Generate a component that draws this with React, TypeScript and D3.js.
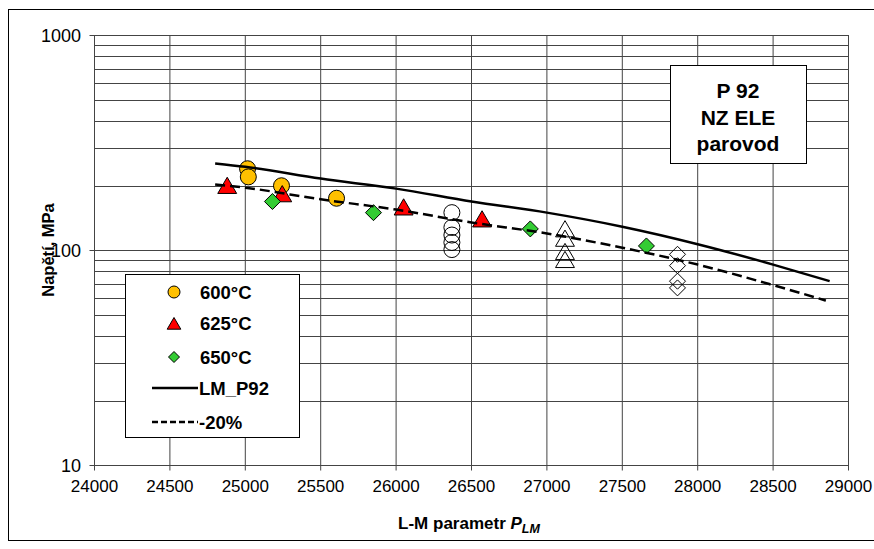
import React from 'react';
import * as d3 from 'd3';

// P_LM, stress [MPa]
const t600 = [
  { p: 25015, s: 240 },
  { p: 25020, s: 220 },
  { p: 25240, s: 200 },
  { p: 25605, s: 175 },
];
const t625 = [
  { p: 24880, s: 199 },
  { p: 25245, s: 182 },
  { p: 26050, s: 158 },
  { p: 26570, s: 139 },
];
const t650 = [
  { p: 25180, s: 169 },
  { p: 25850, s: 150 },
  { p: 26890, s: 126 },
  { p: 27660, s: 105 },
];
// running tests (open markers)
const open600 = [
  { p: 26370, s: 150 },
  { p: 26370, s: 128 },
  { p: 26370, s: 118 },
  { p: 26370, s: 109 },
  { p: 26370, s: 101 },
];
const open625 = [
  { p: 27120, s: 125 },
  { p: 27120, s: 113 },
  { p: 27120, s: 98 },
  { p: 27120, s: 90 },
];
const open650 = [
  { p: 27866, s: 96 },
  { p: 27866, s: 85 },
  { p: 27866, s: 72 },
  { p: 27866, s: 67 },
];
const lmP92 = [
  { p: 24800, s: 254 },
  { p: 25000, s: 245 },
  { p: 25500, s: 216 },
  { p: 26000, s: 194 },
  { p: 26500, s: 169 },
  { p: 27000, s: 150 },
  { p: 27500, s: 129 },
  { p: 28000, s: 107 },
  { p: 28500, s: 86 },
  { p: 28875, s: 72 },
];
const minus20 = [
  { p: 24800, s: 203 },
  { p: 25000, s: 196 },
  { p: 25500, s: 173 },
  { p: 26000, s: 155 },
  { p: 26500, s: 135 },
  { p: 27000, s: 120 },
  { p: 27500, s: 103 },
  { p: 28000, s: 86 },
  { p: 28500, s: 69 },
  { p: 28850, s: 58.5 },
];
const xTicks = [24000, 24500, 25000, 25500, 26000, 26500, 27000, 27500, 28000, 28500, 29000];
const yTicks = [10, 100, 1000];
const legendItems = ['600°C', '625°C', '650°C', 'LM_P92', '-20%'];
const boxLines = ['P 92', 'NZ ELE', 'parovod'];

const FONT = '"Liberation Sans", Arial, sans-serif';

const App = () => {
  const W = 874;
  const H = 549;
  const x = d3.scaleLinear().domain([24000, 29000]).range([94.5, 848.5]);
  const y = d3.scaleLog().domain([10, 1000]).range([465.5, 35.5]);

  const minorY: number[] = [];
  [10, 100].forEach(dec => {
    for (let k = 2; k <= 9; k++) minorY.push(dec * k);
  });

  const line = d3.line<{ p: number; s: number }>()
    .x(d => x(d.p))
    .y(d => y(d.s))
    .curve(d3.curveMonotoneX);

  const tri = (cx: number, cy: number, r: number) =>
    `M${cx},${cy - r}L${cx + r * 1.05},${cy + r * 0.8}L${cx - r * 1.05},${cy + r * 0.8}Z`;
  const dia = (cx: number, cy: number, r: number) =>
    `M${cx},${cy - r}L${cx + r},${cy}L${cx},${cy + r}L${cx - r},${cy}Z`;

  return (
    <svg width={W} height={H} style={{ position: 'absolute', left: 0, top: 0 }}>
      <rect x={0} y={0} width={W} height={H} fill="#fff" />
      <rect x={8.5} y={9.5} width={880} height={531} fill="none" stroke="#000" strokeWidth={1} />

      {/* grid */}
      {minorY.map(v => (
        <line key={'my' + v} x1={x(24000)} x2={x(29000)} y1={Math.round(y(v)) + 0.5} y2={Math.round(y(v)) + 0.5}
          stroke="#444" strokeWidth={1} />
      ))}
      {yTicks.map(v => (
        <line key={'y' + v} x1={x(24000) - 5} x2={x(29000)} y1={y(v)} y2={y(v)} stroke="#444" strokeWidth={1} />
      ))}
      {xTicks.map(v => (
        <line key={'x' + v} x1={x(v)} x2={x(v)} y1={y(1000)} y2={y(10) + 5} stroke="#444" strokeWidth={1} />
      ))}

      {/* tick labels */}
      {yTicks.map(v => (
        <text key={'yl' + v} x={81} y={y(v) + 6.5} textAnchor="end" fontFamily={FONT} fontSize={18}>{v}</text>
      ))}
      {xTicks.map(v => (
        <text key={'xl' + v} x={x(v)} y={492} textAnchor="middle" fontFamily={FONT} fontSize={17}>{v}</text>
      ))}

      {/* axis titles */}
      <text x={469} y={529} textAnchor="middle" fontFamily={FONT} fontSize={17} fontWeight="bold">
        L-M parametr <tspan fontStyle="italic">P</tspan>
        <tspan fontStyle="italic" fontSize={12.5} dy={4}>LM</tspan>
      </text>
      <text transform="translate(54,250) rotate(-90)" textAnchor="middle" fontFamily={FONT} fontSize={16.5} fontWeight="bold">
        Napětí, MPa
      </text>

      {/* markers */}
      {open600.map((d, i) => (
        <circle key={'o6' + i} cx={x(d.p)} cy={y(d.s)} r={8} fill="none" stroke="#000" strokeWidth={1} />
      ))}
      {open625.map((d, i) => (
        <path key={'o62' + i} d={tri(x(d.p), y(d.s), 9)} fill="none" stroke="#000" strokeWidth={1} />
      ))}
      {open650.map((d, i) => (
        <path key={'o65' + i} d={dia(x(d.p), y(d.s), 8)} fill="none" stroke="#000" strokeWidth={1} />
      ))}
      {t600.map((d, i) => (
        <circle key={'a' + i} cx={x(d.p)} cy={y(d.s)} r={8} fill="#FFC000" stroke="#000" strokeWidth={1} />
      ))}
      {t625.map((d, i) => (
        <path key={'b' + i} d={tri(x(d.p), y(d.s), 9)} fill="#FF0000" stroke="#000" strokeWidth={1} />
      ))}
      {t650.map((d, i) => (
        <path key={'c' + i} d={dia(x(d.p), y(d.s), 8)} fill="#33CC33" stroke="#000" strokeWidth={1} />
      ))}

      {/* curves */}
      <path d={line(lmP92) || ''} fill="none" stroke="#000" strokeWidth={2.5} />
      <path d={line(minus20) || ''} fill="none" stroke="#000" strokeWidth={2.5} strokeDasharray="10,5" />

      {/* plot border */}
      <rect x={x(24000)} y={y(1000)} width={x(29000) - x(24000)} height={y(10) - y(1000)} fill="none" stroke="#444" strokeWidth={1} />

      {/* legend */}
      <rect x={125.5} y={274.5} width={174} height={163} fill="#fff" stroke="#000" strokeWidth={1} />
      {legendItems.map((t, i) => {
        const ly = [292, 323, 357, 388, 422][i];
        return (
          <g key={t}>
            {i === 0 && <circle cx={174} cy={ly} r={6} fill="#FFC000" stroke="#000" strokeWidth={1} />}
            {i === 1 && <path d={tri(174, ly + 1, 6.5)} fill="#FF0000" stroke="#000" strokeWidth={1} />}
            {i === 2 && <path d={dia(174, ly, 5.5)} fill="#33CC33" stroke="#000" strokeWidth={1} />}
            {i === 3 && <line x1={152} x2={198} y1={ly} y2={ly} stroke="#000" strokeWidth={2.5} />}
            {i === 4 && <line x1={152} x2={198} y1={ly} y2={ly} stroke="#000" strokeWidth={2.5} strokeDasharray="6,3" />}
            <text x={i < 3 ? 200 : 199} y={ly + 6.5} fontFamily={FONT} fontSize={18.5} fontWeight="bold">{t}</text>
          </g>
        );
      })}

      {/* info box */}
      <rect x={670.5} y={65.5} width={136} height={98} fill="#fff" stroke="#000" strokeWidth={1} />
      {boxLines.map((t, i) => (
        <text key={t} x={738} y={[97.5, 124.5, 150.5][i]} textAnchor="middle" fontFamily={FONT} fontSize={21} fontWeight="bold">{t}</text>
      ))}
    </svg>
  );
};

export default App;
